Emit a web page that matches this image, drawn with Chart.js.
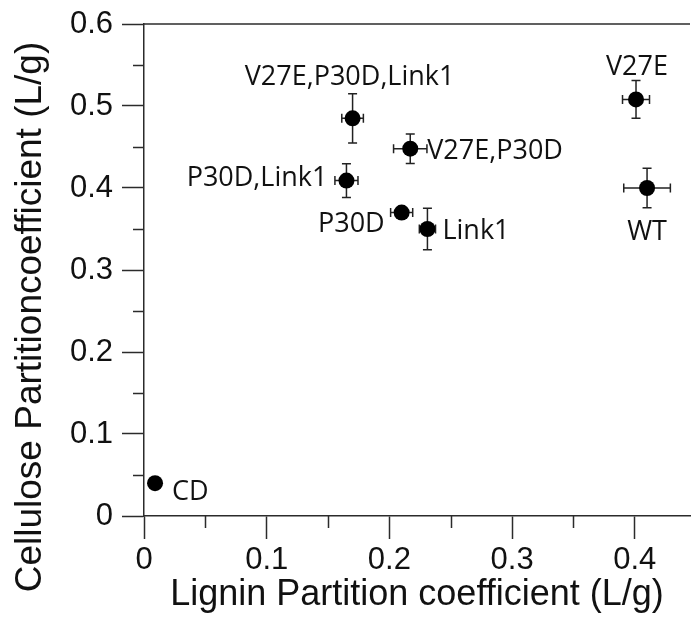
<!DOCTYPE html>
<html>
<head>
<meta charset="utf-8">
<title>Partition coefficients</title>
<script src="https://cdn.jsdelivr.net/npm/chart.js@4.4.1/dist/chart.umd.min.js"></script>
<style>
  html, body { margin: 0; padding: 0; background: #fff; }
  canvas { display: block; }
</style>
</head>
<body>
<canvas id="chart" width="692" height="619" style="width:692px;height:619px"></canvas>
<script>
// Construct names
const variants = ['WT', 'V27E', 'P30D', 'Link1', 'V27E,P30D', 'P30D,Link1', 'V27E,P30D,Link1', 'CD'];
// Lignin partition coefficient (L/g) and its error
const lignin = [0.410, 0.401, 0.210, 0.231, 0.217, 0.165, 0.170, 0.009];
const ligninErr = [0.019, 0.011, 0.009, 0.0066, 0.0136, 0.0094, 0.0088, 0];
// Cellulose partition coefficient (L/g) and its error
const cellulose = [0.400, 0.508, 0.370, 0.350, 0.448, 0.409, 0.485, 0.040];
const celluloseErr = [0.024, 0.023, 0.005, 0.0254, 0.018, 0.0205, 0.030, 0];
// Axis ticks
const xTicks = [0, 0.1, 0.2, 0.3, 0.4];
const yTicks = [0, 0.1, 0.2, 0.3, 0.4, 0.5, 0.6];
const yMinorTicks = [0.05, 0.15, 0.25, 0.35, 0.45, 0.55];
const xMinorTicks = [0.05, 0.15, 0.25, 0.35];

// Where each construct name sits relative to its point
const labelPlacement = {
  'WT':              { dx: 0,   dy: 42,  align: 'center' },
  'V27E':            { dx: 1,   dy: -34, align: 'center' },
  'P30D':            { dx: -17, dy: 10,  align: 'right' },
  'Link1':           { dx: 15,  dy: 0,   align: 'left' },
  'V27E,P30D':       { dx: 17,  dy: 1,   align: 'left' },
  'P30D,Link1':      { dx: -19, dy: -4,  align: 'right' },
  'V27E,P30D,Link1': { dx: -3,  dy: -43, align: 'center' },
  'CD':              { dx: 17,  dy: 7,   align: 'left' }
};

const AXIS_COLOR = '#2b2b2b';
const TICK_FONT = { family: '"Liberation Sans", Arial, Helvetica, sans-serif', size: 31 };
const TITLE_FONT_FAMILY = '"Liberation Sans", Arial, Helvetica, sans-serif';
const TITLE_SIZE = 36;
const Y_TITLE_SIZE = 37;
const LABEL_SIZE = 27;
const LABEL_FONT = LABEL_SIZE + 'px "Open Sans", "Noto Sans", sans-serif';

const decorations = {
  id: 'decorations',
  beforeDatasetsDraw(chart) {
    const { ctx, chartArea, scales: { x, y } } = chart;
    ctx.save();
    ctx.strokeStyle = AXIS_COLOR;
    ctx.lineWidth = 1.5;
    // top frame line
    ctx.beginPath();
    ctx.moveTo(chartArea.left, chartArea.top);
    ctx.lineTo(chartArea.right, chartArea.top);
    ctx.stroke();
    // minor ticks
    ctx.beginPath();
    yMinorTicks.forEach(v => {
      const py = Math.round(y.getPixelForValue(v)) + 0.5;
      ctx.moveTo(chartArea.left - 11, py);
      ctx.lineTo(chartArea.left, py);
    });
    xMinorTicks.forEach(v => {
      const px = Math.round(x.getPixelForValue(v)) + 0.5;
      ctx.moveTo(px, chartArea.bottom);
      ctx.lineTo(px, chartArea.bottom + 12);
    });
    ctx.stroke();
    // error bars
    ctx.strokeStyle = '#222';
    ctx.lineWidth = 1.5;
    const cap = 4.5;
    variants.forEach((name, i) => {
      const px = x.getPixelForValue(lignin[i]);
      const py = y.getPixelForValue(cellulose[i]);
      ctx.beginPath();
      if (ligninErr[i] > 0) {
        const x0 = x.getPixelForValue(lignin[i] - ligninErr[i]);
        const x1 = x.getPixelForValue(lignin[i] + ligninErr[i]);
        ctx.moveTo(x0, py); ctx.lineTo(x1, py);
        ctx.moveTo(x0, py - cap); ctx.lineTo(x0, py + cap);
        ctx.moveTo(x1, py - cap); ctx.lineTo(x1, py + cap);
      }
      if (celluloseErr[i] > 0) {
        const y0 = y.getPixelForValue(cellulose[i] - celluloseErr[i]);
        const y1 = y.getPixelForValue(cellulose[i] + celluloseErr[i]);
        ctx.moveTo(px, y0); ctx.lineTo(px, y1);
        ctx.moveTo(px - cap, y0); ctx.lineTo(px + cap, y0);
        ctx.moveTo(px - cap, y1); ctx.lineTo(px + cap, y1);
      }
      ctx.stroke();
    });
    ctx.restore();
  },
  afterDatasetsDraw(chart) {
    const { ctx, scales: { x, y } } = chart;
    ctx.save();
    ctx.fillStyle = '#111';
    ctx.font = LABEL_FONT;
    ctx.textBaseline = 'alphabetic';
    variants.forEach((name, i) => {
      const p = labelPlacement[name];
      const px = x.getPixelForValue(lignin[i]);
      const py = y.getPixelForValue(cellulose[i]);
      ctx.textAlign = p.align;
      ctx.fillText(name, px + p.dx, py + p.dy + LABEL_SIZE * 0.357);
    });
    // vertical axis title
    ctx.font = Y_TITLE_SIZE + 'px ' + TITLE_FONT_FAMILY;
    ctx.fillStyle = '#111';
    ctx.textAlign = 'center';
    ctx.textBaseline = 'middle';
    ctx.translate(31, 317);
    ctx.rotate(-Math.PI / 2);
    ctx.fillText('Cellulose Partitioncoefficient (L/g)', 0, 0);
    ctx.restore();
  }
};

new Chart(document.getElementById('chart'), {
  type: 'scatter',
  data: {
    datasets: [{
      data: lignin.map((v, i) => ({ x: v, y: cellulose[i] })),
      pointRadius: 8,
      pointHoverRadius: 8,
      backgroundColor: '#000',
      borderWidth: 0
    }]
  },
  options: {
    responsive: false,
    animation: false,
    devicePixelRatio: 1,
    layout: { autoPadding: false, padding: { left: 0, right: 2, top: 24, bottom: 2 } },
    plugins: { legend: { display: false }, tooltip: { enabled: false } },
    scales: {
      x: {
        type: 'linear',
        min: 0,
        max: 0.445,
        afterBuildTicks: s => { s.ticks = xTicks.map(v => ({ value: v })); },
        afterFit: s => { s.height = 101; s.paddingLeft = 0; s.paddingRight = 0; },
        border: { display: true, color: AXIS_COLOR, width: 1.5 },
        grid: { display: true, drawOnChartArea: false, drawTicks: true, tickLength: 23, tickColor: AXIS_COLOR, tickWidth: 1.5 },
        ticks: { color: '#111', font: TICK_FONT, padding: 3, maxRotation: 0, callback: v => String(v) },
        title: { display: true, text: 'Lignin Partition coefficient (L/g)', color: '#111',
                 font: { family: TITLE_FONT_FAMILY, size: TITLE_SIZE }, padding: { top: 0, bottom: 0 } }
      },
      y: {
        type: 'linear',
        min: 0,
        max: 0.6,
        afterBuildTicks: s => { s.ticks = yTicks.map(v => ({ value: v })); },
        afterFit: s => { s.width = 144; s.paddingTop = 0; s.paddingBottom = 0; },
        border: { display: true, color: AXIS_COLOR, width: 1.5 },
        grid: { display: true, drawOnChartArea: false, drawTicks: true, tickLength: 22, tickColor: AXIS_COLOR, tickWidth: 1.5 },
        ticks: { color: '#111', font: TICK_FONT, padding: 9, callback: v => String(v) }
      }
    }
  },
  plugins: [decorations]
});
</script>
</body>
</html>
